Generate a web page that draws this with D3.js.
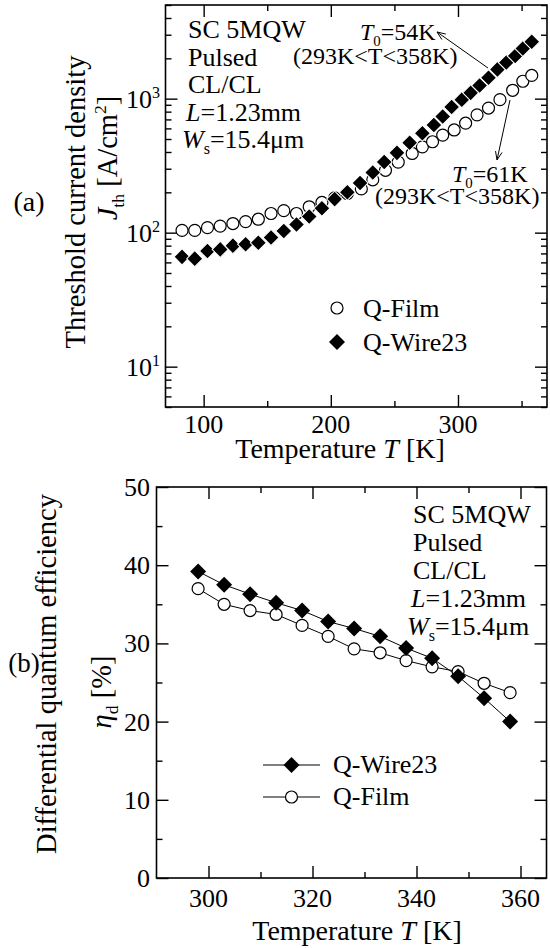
<!DOCTYPE html>
<html>
<head>
<meta charset="utf-8">
<script src="https://cdn.jsdelivr.net/npm/d3@7"></script>
<style>
  body { margin: 0; background: #fff; }
  svg text { font-family: "Liberation Serif", "Times New Roman", serif; fill: #000; }
</style>
</head>
<body>
<div id="viz"></div>
<script>
// (a) threshold current density, A/cm2
const filmTempA = [83, 93, 103, 113, 123, 133, 143, 153, 163, 173, 183, 193, 203, 213, 224, 233, 243, 253, 264, 272, 280, 288, 297, 306, 315, 324, 333, 343, 351, 358];
const filmJth = [104, 104, 109, 112, 117, 121, 126, 139, 146, 139, 156, 168, 182, 196, 212, 248, 292, 336, 390, 437, 477, 535, 584, 656, 757, 851, 983, 1155, 1349, 1490];
const wireTempA = [83, 93, 103, 113, 123, 133, 143, 153, 163, 173, 183, 193, 203, 213, 223, 233, 242, 252, 262, 272, 281, 288, 295, 303, 310, 317, 324, 331, 338, 345, 351, 358];
const wireJth = [66, 64, 73, 75, 80, 82, 84, 92, 103, 115, 132, 152, 178, 200, 235, 281, 337, 394, 469, 552, 636, 737, 866, 983, 1105, 1253, 1431, 1653, 1862, 2084, 2370, 2660];

// (b) differential quantum efficiency, %
const tempB = [298, 303, 308, 313, 318, 323, 328, 333, 338, 343, 348, 353, 358];
const wireEta = [39.2, 37.5, 36.3, 35.2, 34.2, 32.8, 31.9, 30.9, 29.4, 28.1, 25.8, 23.0, 20.0];
const filmEta = [37.0, 35.0, 34.2, 33.7, 32.3, 30.9, 29.3, 28.8, 27.8, 27.0, 26.4, 24.9, 23.7];

const xTicksA = [100, 200, 300];
const xMinorA = [150, 250, 350];
const yTicksA = [10, 100, 1000];
const xTicksB = [300, 320, 340, 360];
const xMinorB = [310, 330, 350];
const yTicksB = [0, 10, 20, 30, 40, 50];
const yMinorB = [5, 15, 25, 35, 45];

// arrows for the T0 notes: [from, to] in data units
const arrowWire = [[323.6, 1694], [283.5, 3145]];
const arrowFilm = [[340.9, 977], [330.7, 349]];

const sampleLines = [
  [{t: "SC 5MQW"}],
  [{t: "Pulsed"}],
  [{t: "CL/CL"}],
  [{t: "L", i: 1}, {t: "=1.23mm"}],
  [{t: "W", i: 1}, {t: "s", sub: 1}, {t: "=15.4μm"}]
];
const lineShift = [0, 0, 0, -2, -6];

const svg = d3.select("#viz").append("svg")
  .attr("width", 550)
  .attr("height", 948);

// writes parts (italic / sub / sup) into a text element
function rich(text, parts, size) {
  let shift = 0;
  parts.forEach(p => {
    const ts = text.append("tspan").text(p.t);
    let target = 0;
    if (p.sub) target = size * 0.24;
    if (p.sup) target = -size * 0.38;
    if (p.sub || p.sup) ts.attr("font-size", size * 0.62);
    if (target !== shift) ts.attr("dy", target - shift);
    shift = target;
    if (p.i) ts.style("font-style", "italic");
  });
  return text;
}

function addText(x, y, parts, size, anchor) {
  const t = svg.append("text")
    .attr("x", x).attr("y", y)
    .attr("font-size", size)
    .attr("text-anchor", anchor || "start");
  return rich(t, parts, size);
}

function addRotated(x, y, parts, size) {
  const t = svg.append("text")
    .attr("transform", `translate(${x},${y}) rotate(-90)`)
    .attr("font-size", size)
    .attr("text-anchor", "middle");
  return rich(t, parts, size);
}

function frame(x, y, xMajor, xMinor, yMajor, yMinor) {
  const [x0, x1] = x.range();
  const [y0, y1] = y.range();
  const g = svg.append("g");
  const axes = [
    [d3.axisBottom(x), `translate(0,${y0})`, xMajor, xMinor],
    [d3.axisTop(x), `translate(0,${y1})`, xMajor, xMinor],
    [d3.axisLeft(y), `translate(${x0},0)`, yMajor, yMinor],
    [d3.axisRight(y), `translate(${x1},0)`, yMajor, yMinor]
  ];
  axes.forEach(([ax, tr, major, minor]) => {
    g.append("g").attr("transform", tr)
      .call(ax.tickValues(major).tickSize(-12).tickSizeOuter(0).tickFormat(""))
      .call(s => s.select(".domain").remove());
    g.append("g").attr("transform", tr)
      .call(ax.tickValues(minor).tickSize(-6).tickSizeOuter(0).tickFormat(""))
      .call(s => s.select(".domain").remove());
  });
  g.selectAll("line").attr("stroke", "#000").attr("stroke-width", 1.4);
  g.append("rect")
    .attr("x", x0).attr("y", y1)
    .attr("width", x1 - x0).attr("height", y0 - y1)
    .attr("fill", "none")
    .attr("stroke", "#000")
    .attr("stroke-width", 1.6);
}

const diamond = d3.symbol(d3.symbolSquare).size(128);

function drawCircles(x, y, xs, ys) {
  svg.append("g").selectAll("circle")
    .data(xs.map((d, i) => [d, ys[i]]))
    .join("circle")
      .attr("cx", d => x(d[0]))
      .attr("cy", d => y(d[1]))
      .attr("r", 6)
      .attr("fill", "#fff")
      .attr("stroke", "#000")
      .attr("stroke-width", 1.2);
}

function drawDiamonds(x, y, xs, ys, edge) {
  svg.append("g").selectAll("path")
    .data(xs.map((d, i) => [d, ys[i]]))
    .join("path")
      .attr("d", diamond)
      .attr("transform", d => `translate(${x(d[0])},${y(d[1])}) rotate(45)`)
      .attr("fill", "#000")
      .attr("stroke", edge)
      .attr("stroke-width", 1);
}

function arrow(x, y, pts) {
  const [a, b] = pts.map(p => [x(p[0]), y(p[1])]);
  const ang = Math.atan2(b[1] - a[1], b[0] - a[0]);
  const len = 9, spread = 0.38;
  svg.append("line")
    .attr("x1", a[0]).attr("y1", a[1]).attr("x2", b[0]).attr("y2", b[1])
    .attr("stroke", "#000").attr("stroke-width", 1);
  svg.append("path")
    .attr("d", d3.line()([
      [b[0] - len * Math.cos(ang - spread), b[1] - len * Math.sin(ang - spread)],
      b,
      [b[0] - len * Math.cos(ang + spread), b[1] - len * Math.sin(ang + spread)]
    ]))
    .attr("fill", "none").attr("stroke", "#000").attr("stroke-width", 1);
}

// ---------- panel (a) ----------
const xA = d3.scaleLinear().domain([70, 370]).range([165.5, 547]);
const yA = d3.scaleLog().domain([5, 5000]).range([407, 5]);
const yMinorA = yA.ticks().filter(v => !yTicksA.includes(v));

frame(xA, yA, xTicksA, xMinorA, yTicksA, yMinorA);

xTicksA.forEach(v => addText(xA(v), 433, [{t: String(v)}], 26, "middle"));
yTicksA.forEach(v => addText(160, yA(v) + 9, [{t: "10"}, {t: String(Math.log10(v)), sup: 1}], 26, "end"));

drawCircles(xA, yA, filmTempA, filmJth);
drawDiamonds(xA, yA, wireTempA, wireJth, "#fff");

sampleLines.forEach((parts, i) => addText(188 + lineShift[i], 38 + i * 27.5, parts, 26));

addText(360, 40, [{t: "T", i: 1}, {t: "0", sub: 1}, {t: "=54K"}], 24);
addText(293, 64, [{t: "(293K<T<358K)"}], 24);
addText(452, 182, [{t: "T", i: 1}, {t: "0", sub: 1}, {t: "=61K"}], 24);
addText(375, 204, [{t: "(293K<T<358K)"}], 24);
arrow(xA, yA, arrowWire);
arrow(xA, yA, arrowFilm);

// legend (a)
svg.append("circle").attr("cx", 337).attr("cy", 308).attr("r", 6)
  .attr("fill", "#fff").attr("stroke", "#000").attr("stroke-width", 1.2);
svg.append("path").attr("d", diamond).attr("transform", "translate(337,342) rotate(45)").attr("fill", "#000");
addText(363, 317, [{t: "Q-Film"}], 26);
addText(363, 351, [{t: "Q-Wire23"}], 26);

addText(340, 458, [{t: "Temperature "}, {t: "T", i: 1}, {t: " [K]"}], 28, "middle");
addRotated(85, 202, [{t: "Threshold current density"}], 28.5);
addRotated(117, 158, [{t: "J", i: 1}, {t: "th", sub: 1}, {t: " [A/cm"}, {t: "2", sup: 1}, {t: "]"}], 28.5);
addText(29, 211, [{t: "(a)"}], 28, "middle");

// ---------- panel (b) ----------
const xB = d3.scaleLinear().domain([290, 365]).range([156.5, 546.5]);
const yB = d3.scaleLinear().domain([0, 50]).range([878, 487]);

frame(xB, yB, xTicksB, xMinorB, yTicksB, yMinorB);

xTicksB.forEach(v => addText(xB(v), 907, [{t: String(v)}], 26, "middle"));
yTicksB.forEach(v => addText(150, yB(v) + 9, [{t: String(v)}], 26, "end"));

const lineB = d3.line().x(d => xB(d[0])).y(d => yB(d[1]));
svg.append("path").datum(tempB.map((t, i) => [t, filmEta[i]]))
  .attr("d", lineB).attr("fill", "none").attr("stroke", "#000").attr("stroke-width", 1);
svg.append("path").datum(tempB.map((t, i) => [t, wireEta[i]]))
  .attr("d", lineB).attr("fill", "none").attr("stroke", "#000").attr("stroke-width", 1);
drawCircles(xB, yB, tempB, filmEta);
drawDiamonds(xB, yB, tempB, wireEta, "none");

sampleLines.forEach((parts, i) => addText(413 + lineShift[i], 523 + i * 28, parts, 26));

// legend (b)
[[765, "Q-Wire23"], [797, "Q-Film"]].forEach(([ly, name], i) => {
  svg.append("line").attr("x1", 263).attr("x2", 320).attr("y1", ly).attr("y2", ly)
    .attr("stroke", "#000").attr("stroke-width", 1);
  if (i === 0) {
    svg.append("path").attr("d", diamond).attr("transform", `translate(291.5,${ly}) rotate(45)`).attr("fill", "#000");
  } else {
    svg.append("circle").attr("cx", 291.5).attr("cy", ly).attr("r", 6)
      .attr("fill", "#fff").attr("stroke", "#000").attr("stroke-width", 1.2);
  }
  addText(333, ly + 8, [{t: name}], 26);
});

addText(357, 940, [{t: "Temperature "}, {t: "T", i: 1}, {t: " [K]"}], 28, "middle");
addRotated(56, 674, [{t: "Differential quantum efficiency"}], 28.5);
addRotated(111, 692, [{t: "η", i: 1}, {t: "d", sub: 1}, {t: " [%]"}], 28.5);
addText(24, 672, [{t: "(b)"}], 27, "middle");
</script>
</body>
</html>
